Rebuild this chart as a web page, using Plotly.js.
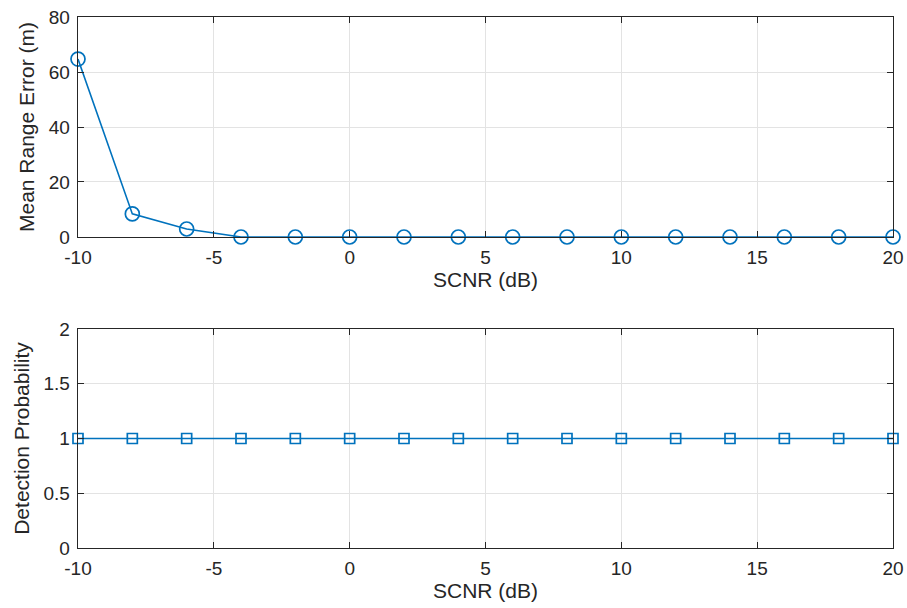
<!DOCTYPE html>
<html><head><meta charset="utf-8">
<script src="https://cdn.plot.ly/plotly-3.0.1.min.js"></script>
<style>body{margin:0;background:#fff}#c{width:907px;height:608px}</style>
</head><body><div id="c"></div>
<script>
const scnr = [-10,-8,-6,-4,-2,0,2,4,6,8,10,12,14,16,18,20];
const meanRangeError = [64.7,8.4,2.9,0,0,0,0,0,0,0,0,0,0,0,0,0];
const detectionProb = [1,1,1,1,1,1,1,1,1,1,1,1,1,1,1,1];
const xTicks = [-10,-5,0,5,10,15,20];
const xTickText = ['-10','-5','0','5','10','15','20'];
const yTicksTop = [0,20,40,60,80];
const yTicksBot = [0,0.5,1,1.5,2];
const yTickTextBot = ['0','0.5','1','1.5','2'];

const col = '#0072BD';
const fam = '"Liberation Sans", Arial, sans-serif';
const font = {family:fam, size:19, color:'#262626'};
const tfont = {family:fam, size:21, color:'#262626'};
const axBase = {showline:true, mirror:'ticks', linecolor:'#262626', linewidth:1.3,
  ticks:'inside', ticklen:6, tickcolor:'#262626', showgrid:true, gridcolor:'#e3e3e3', gridwidth:1,
  zeroline:false, tickfont:font};

const data = [
  {x:scnr, y:meanRangeError, xaxis:'x', yaxis:'y', mode:'lines+markers', type:'scatter',
   line:{color:col, width:1.6}, marker:{symbol:'circle-open', size:14, color:col, line:{width:1.7, color:col}}, cliponaxis:false},
  {x:scnr, y:detectionProb, xaxis:'x2', yaxis:'y2', mode:'lines+markers', type:'scatter',
   line:{color:col, width:1.6}, marker:{symbol:'square-open', size:10, color:col, line:{width:1.7, color:col}}, cliponaxis:false}
];

const xa = {range:[-10,20], tickvals:xTicks, ticktext:xTickText, ticklabelstandoff:3,
  title:{text:'SCNR (dB)', font:tfont, standoff:5}};
const layout = {
  width:907, height:608, showlegend:false, paper_bgcolor:'#fff', plot_bgcolor:'#fff',
  margin:{l:78, r:14, t:17, b:60}, font:font,
  xaxis:Object.assign({}, axBase, xa, {domain:[0,1], anchor:'y'}),
  yaxis:Object.assign({}, axBase, {domain:[0.5857,1], range:[0,80], tickvals:yTicksTop, anchor:'x', ticklabelstandoff:3,
    title:{text:'Mean Range Error (m)', font:tfont, standoff:8}}),
  xaxis2:Object.assign({}, axBase, xa, {domain:[0,1], anchor:'y2'}),
  yaxis2:Object.assign({}, axBase, {domain:[0,0.4124], range:[0,2], tickvals:yTicksBot, ticktext:yTickTextBot, anchor:'x2', ticklabelstandoff:3,
    title:{text:'Detection Probability', font:tfont, standoff:8}})
};
Plotly.newPlot('c', data, layout, {displayModeBar:false, staticPlot:true});
</script></body></html>
